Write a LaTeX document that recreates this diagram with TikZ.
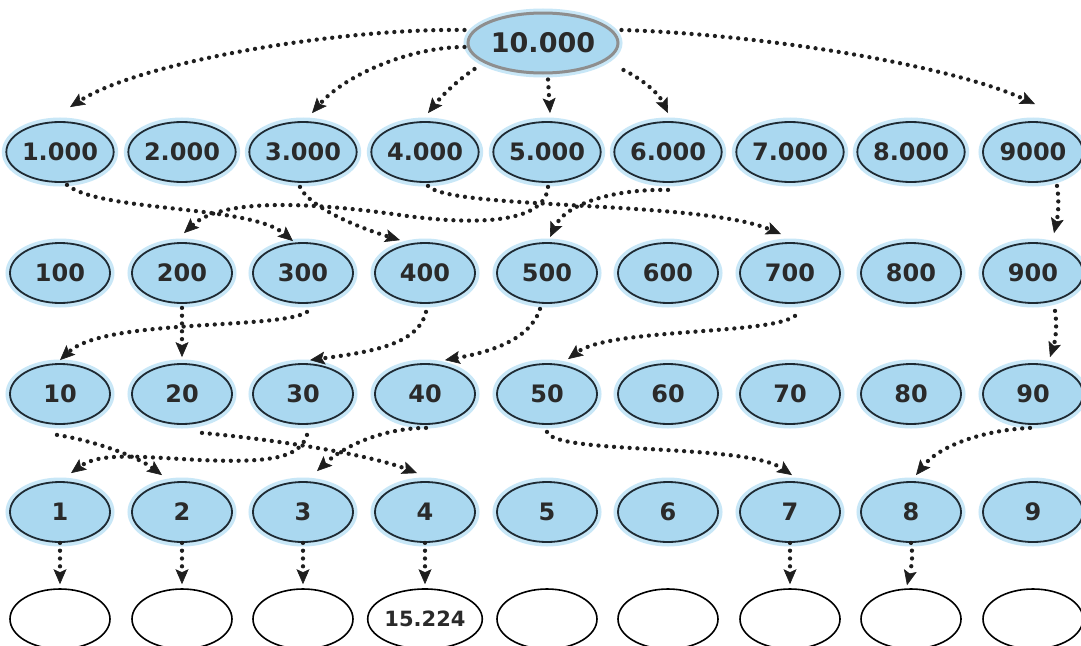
\documentclass[tikz,border=0pt]{standalone}
\usepackage{fontspec}
\setmainfont{DejaVu Sans}
\usetikzlibrary{shapes.geometric,arrows.meta}
\definecolor{fillblue}{HTML}{AAD8F0}
\definecolor{glow}{HTML}{C8E7F7}
\definecolor{rim}{HTML}{1E2A33}
\definecolor{ink}{HTML}{2A2A2A}
\definecolor{toprim}{HTML}{8E8E8E}
\definecolor{dotc}{HTML}{1E1E1E}
\tikzset{
  blob/.style={ellipse, minimum width=100pt, minimum height=60pt, inner sep=0pt,
    fill=fillblue, draw=rim, line width=1.8pt, preaction={draw=glow, line width=9pt},
    text=ink, font=\bfseries\fontsize{24}{24}\selectfont},
  topblob/.style={blob, minimum width=150pt, draw=toprim, line width=3pt,
    font=\bfseries\fontsize{27}{27}\selectfont},
  res/.style={ellipse, minimum width=100pt, minimum height=60pt, inner sep=0pt,
    fill=white, draw=black, line width=1.6pt, text=ink,
    font=\bfseries\fontsize{21}{21}\selectfont},
  link/.style={draw=dotc, line width=4.3pt, line cap=round, dash pattern=on 0pt off 7.8pt,
    -{Stealth[length=15pt,width=13pt,inset=3pt,line width=0.6pt]}}
}
\begin{document}
\begin{tikzpicture}[x=1pt,y=-1pt]
\useasboundingbox (0,0) rectangle (1081,645);
\clip (0,0) rectangle (1081,645);
\fill[white] (0,0) rectangle (1081,645);
% nodes
\node[topblob] (T) at (543,43) {10.000};
\foreach \k/\x/\t in {1/60/1.000,2/182/2.000,3/303/3.000,4/425/4.000,5/547/5.000,6/668/6.000,7/790/7.000,8/911/8.000,9/1033/9000}
  \node[blob] (a\k) at (\x,152) {\t};
\foreach \k/\x/\t in {1/60/100,2/182/200,3/303/300,4/425/400,5/547/500,6/668/600,7/790/700,8/911/800,9/1033/900}
  \node[blob] (b\k) at (\x,273) {\t};
\foreach \k/\x/\t in {1/60/10,2/182/20,3/303/30,4/425/40,5/547/50,6/668/60,7/790/70,8/911/80,9/1033/90}
  \node[blob] (c\k) at (\x,394) {\t};
\foreach \k/\x in {1/60,2/182,3/303,4/425,5/547,6/668,7/790,8/911,9/1033}
  \node[blob] (d\k) at (\x,512) {\k};
\foreach \k/\x in {1/60,2/182,3/303,5/547,6/668,7/790,8/911,9/1033}
  \node[res] (e\k) at (\x,619) {};
\node[res] (e4) at (425,619) {15.224};
% connectors from 10.000
\draw[link] ([xshift=-2pt,yshift=13pt]T.west) .. controls (340,28) and (140,62) .. ([xshift=10pt,yshift=14pt]a1.north);
\draw[link] ([xshift=-2pt,yshift=-4pt]T.west) .. controls (410,47) and (345,75) .. ([xshift=9pt,yshift=8pt]a3.north);
\draw[link] ([xshift=8pt,yshift=-26pt]T.west) .. controls (455,82) and (440,98) .. ([xshift=3pt,yshift=8pt]a4.north);
\draw[link] ([xshift=5pt,yshift=-5pt]T.south) -- ([xshift=3pt,yshift=8pt]a5.north);
\draw[link] ([xshift=4pt,yshift=-27pt]T.east) .. controls (640,78) and (658,92) .. ([yshift=8pt]a6.north);
\draw[link] ([xshift=2pt,yshift=13pt]T.east) .. controls (760,34) and (950,65) .. ([xshift=2pt,yshift=17pt]a9.north);
% thousands -> hundreds
\draw[link] ([xshift=7pt,yshift=-2pt]a1.south) .. controls (100,212) and (250,205) .. ([xshift=-10pt,yshift=1pt]b3.north);
\draw[link] ([xshift=-3pt,yshift=-4pt]a3.south) .. controls (308,205) and (350,225) .. ([xshift=-25pt,yshift=2pt]b4.north);
\draw[link] ([xshift=3pt,yshift=-3pt]a4.south) .. controls (450,210) and (700,200) .. ([xshift=-9pt,yshift=8pt]b7.north);
\draw[link] ([xshift=1pt,yshift=-4pt]a5.south) .. controls (545,225) and (470,225) .. (400,215) .. controls (330,205) and (225,195) .. ([xshift=2pt,yshift=9pt]b2.north);
\draw[link] ([yshift=-7pt]a6.south) .. controls (610,189) and (565,205) .. ([xshift=3pt,yshift=5pt]b5.north);
\draw[link] ([xshift=24pt,yshift=-3pt]a9.south) .. controls (1060,205) and (1057,220) .. ([xshift=21pt,yshift=9pt]b9.north);
% hundreds -> tens
\draw[link] ([xshift=4pt,yshift=-8pt]b3.south) .. controls (280,330) and (105,318) .. ([yshift=3pt]c1.north);
\draw[link] ([yshift=-4pt]b2.south) -- ([yshift=6pt]c2.north);
\draw[link] ([xshift=1pt,yshift=-8pt]b4.south) .. controls (418,345) and (370,352) .. ([xshift=7pt,yshift=3pt]c3.north);
\draw[link] ([xshift=-7pt,yshift=-5pt]b5.south) .. controls (530,340) and (490,352) .. ([xshift=20pt,yshift=3pt]c4.north);
\draw[link] ([xshift=5pt,yshift=-12pt]b7.south) .. controls (770,335) and (610,328) .. ([xshift=21pt,yshift=4pt]c5.north);
\draw[link] ([xshift=22pt,yshift=-7pt]b9.south) .. controls (1058,330) and (1054,345) .. ([xshift=17pt,yshift=6pt]c9.north);
% tens -> units
\draw[link] ([xshift=-3pt,yshift=-10pt]c1.south) .. controls (90,440) and (135,455) .. ([xshift=-20pt,yshift=6pt]d2.north);
\draw[link] ([xshift=4pt,yshift=-10pt]c3.south) .. controls (300,458) and (270,463) .. (200,460) .. controls (140,457) and (100,452) .. ([xshift=11pt,yshift=8pt]d1.north);
\draw[link] ([xshift=20pt,yshift=-8pt]c2.south) .. controls (280,440) and (370,455) .. ([xshift=-8pt,yshift=8pt]d4.north);
\draw[link] ([xshift=1pt,yshift=-3pt]c4.south) .. controls (385,428) and (345,445) .. ([xshift=14pt,yshift=10pt]d3.north);
\draw[link] ([yshift=-7pt]c5.south) .. controls (555,455) and (745,443) .. ([xshift=2pt,yshift=6pt]d7.north);
\draw[link] ([xshift=-3pt,yshift=-3pt]c9.south) .. controls (985,430) and (940,445) .. ([xshift=5pt,yshift=6pt]d8.north);
% units -> results
\foreach \k in {1,2,3,4,7}
  \draw[link] (d\k.south) -- ([yshift=4pt]e\k.north);
\draw[link] (d8.south) .. controls (914,560) and (910,572) .. ([xshift=-4pt,yshift=3pt]e8.north);
\end{tikzpicture}
\end{document}
